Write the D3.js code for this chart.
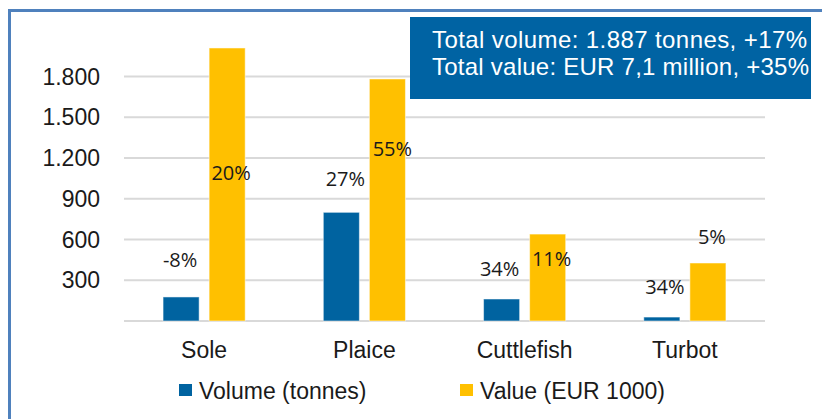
<!DOCTYPE html>
<html>
<head>
<meta charset="utf-8">
<script src="https://cdn.jsdelivr.net/npm/d3@7"></script>
<style>
  body { margin: 0; background: #fff; }
  svg { display: block; }
</style>
</head>
<body>
<div id="chart"></div>
<script>
// species landed, volume and value, with change vs previous year
var species = ["Sole", "Plaice", "Cuttlefish", "Turbot"];
var volume = [177, 800, 162, 29];        // tonnes
var value = [2010, 1782, 640, 427];      // EUR 1000
var volumeChange = ["-8%", "27%", "34%", "34%"];
var valueChange = ["20%", "55%", "11%", "5%"];
var seriesNames = ["Volume (tonnes)", "Value (EUR 1000)"];
var yTicks = [300, 600, 900, 1200, 1500, 1800];
var summary = ["Total volume: 1.887 tonnes, +17%", "Total value: EUR 7,1 million, +35%"];

// label nudges (the original labels were placed by hand)
var volLabelOffset = [[-1, -37], [4, -33], [-2, -30], [3, -30]];
var valLabelOffset = [[4, 125], [5, 70], [4, 25], [4, -26]];

var colors = ["#0063a0", "#ffc000"];
var W = 822, H = 419;

let svg = d3.select("#chart")
            .append("svg")
            .attr("width", W)
            .attr("height", H);

// frame (cut at the right and bottom edges)
svg.append("path")
   .attr("d", "M9.5,419 V10.5 H822")
   .attr("fill", "none")
   .attr("stroke", "#4f81bd")
   .attr("stroke-width", 3);

let fmt = d3.formatLocale({ decimal: ",", thousands: ".", grouping: [3], currency: ["", ""] }).format(",d");

let x0 = d3.scaleBand().domain(species).range([124, 765]);
let x1 = d3.scaleBand().domain(seriesNames).range([0, x0.bandwidth()])
           .paddingInner(0.217).paddingOuter(0.848);
let y = d3.scaleLinear().domain([0, 1800]).range([321, 76.5]);

// gridlines + tick labels
let grid = svg.append("g");
grid.selectAll("line")
    .data([0].concat(yTicks))
    .enter()
    .append("line")
    .attr("x1", 124)
    .attr("x2", 765)
    .attr("y1", d => y(d))
    .attr("y2", d => y(d))
    .attr("stroke", "#d9d9d9")
    .attr("stroke-width", 2);

grid.selectAll("text")
    .data(yTicks)
    .enter()
    .append("text")
    .attr("x", 100)
    .attr("y", d => y(d))
    .attr("dy", "0.35em")
    .attr("text-anchor", "end")
    .attr("font-family", "Liberation Sans, Arial, sans-serif")
    .attr("font-size", 23)
    .attr("fill", "#1a1a1a")
    .text(d => fmt(d));

// bars
let rows = species.map((s, i) => ({ s: s, vals: [volume[i], value[i]], labs: [volumeChange[i], valueChange[i]], offs: [volLabelOffset[i], valLabelOffset[i]] }));

let groups = svg.append("g")
  .selectAll("g")
  .data(rows)
  .enter()
  .append("g")
  .attr("transform", d => "translate(" + x0(d.s) + ",0)");

groups.selectAll("rect")
  .data(d => d.vals.map((v, k) => ({ k: k, v: v })))
  .enter()
  .append("rect")
  .attr("x", d => x1(seriesNames[d.k]))
  .attr("width", x1.bandwidth())
  .attr("y", d => y(d.v))
  .attr("height", d => y(0) - y(d.v))
  .attr("fill", (d) => colors[d.k])
  .attr("stroke", "rgba(255,255,255,0.5)")
  .attr("stroke-width", 1);

groups.selectAll("text")
  .data(d => d.vals.map((v, k) => ({ k: k, v: v, lab: d.labs[k], off: d.offs[k] })))
  .enter()
  .append("text")
  .attr("x", d => x1(seriesNames[d.k]) + x1.bandwidth() / 2 + d.off[0])
  .attr("y", d => y(d.v) + d.off[1])
  .attr("dy", "0.35em")
  .attr("text-anchor", "middle")
  .attr("font-family", "Open Sans, Noto Sans, sans-serif")
  .attr("font-size", 20)
  .attr("fill", "#1a1a1a")
  .text(d => d.lab);

// category labels
svg.append("g")
  .selectAll("text")
  .data(species)
  .enter()
  .append("text")
  .attr("x", d => x0(d) + x0.bandwidth() / 2)
  .attr("y", 358)
  .attr("text-anchor", "middle")
  .attr("font-family", "Liberation Sans, Arial, sans-serif")
  .attr("font-size", 23)
  .attr("fill", "#1a1a1a")
  .text(d => d);

// legend
let legX = [179, 460];
let leg = svg.append("g")
  .selectAll("g")
  .data(seriesNames)
  .enter()
  .append("g")
  .attr("transform", (d, i) => "translate(" + legX[i] + ",0)");

leg.append("rect")
   .attr("x", 0)
   .attr("y", 384)
   .attr("width", 13)
   .attr("height", 12)
   .attr("fill", (d, i) => colors[i]);

leg.append("text")
   .attr("x", 20)
   .attr("y", 399)
   .attr("font-family", "Liberation Sans, Arial, sans-serif")
   .attr("font-size", 23)
   .attr("fill", "#1a1a1a")
   .text(d => d);

// summary box
svg.append("rect")
   .attr("x", 410)
   .attr("y", 17)
   .attr("width", 401)
   .attr("height", 82)
   .attr("fill", "#0063a3");

svg.append("g")
  .selectAll("text")
  .data(summary)
  .enter()
  .append("text")
  .attr("x", 432)
  .attr("y", (d, i) => 48 + i * 27)
  .attr("font-family", "Liberation Sans, Arial, sans-serif")
  .attr("font-size", 24)
  .attr("fill", "#fff")
  .attr("textLength", (d, i) => i == 0 ? 375 : 377)
  .attr("lengthAdjust", "spacing")
  .text(d => d);
</script>
</body>
</html>
